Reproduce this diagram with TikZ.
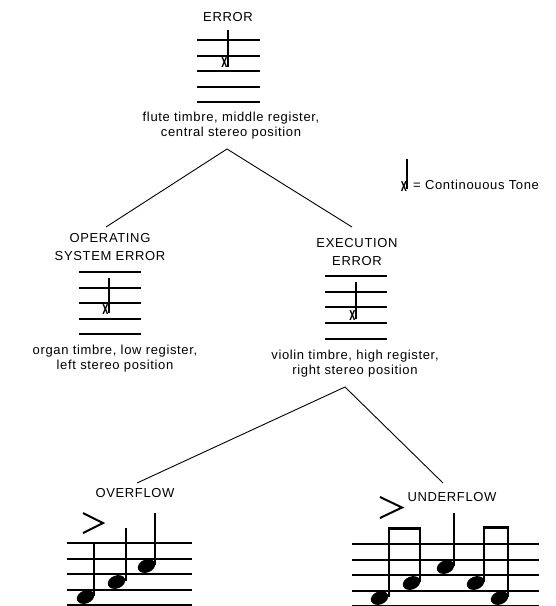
\documentclass[tikz,border=0pt]{standalone}
\usepackage{fontspec}
\setmainfont{Liberation Sans}[LetterSpace=5]
\usetikzlibrary{shapes.geometric}
\begin{document}
\begin{tikzpicture}[x=1pt,y=-1pt,
  title/.style={font=\fontsize{13}{18}\selectfont, align=center, inner sep=0pt},
  desc/.style={font=\fontsize{13}{15}\selectfont, align=center, inner sep=0pt},
  staffline/.style={line width=1.8pt},
  stemline/.style={line width=1.4pt},
  conn/.style={line width=0.9pt},
  tonex/.style={font=\fontsize{11}{11}\selectfont\bfseries, inner sep=0pt},
  head/.style={ellipse, fill=black, inner sep=0pt, minimum width=18pt, minimum height=13pt, rotate=22},
  accent/.style={line width=2pt, line join=miter},
  beamline/.style={line width=2.8pt}
]
\useasboundingbox (0,0) rectangle (556,606);

% ---------- top: ERROR ----------
\node[title] (err) at (228,17) {ERROR};
\foreach \y in {40,56,71,87,102} \draw[staffline] (197,\y) -- (260,\y);
\draw[stemline] (228,30) -- (228,67);
\node[tonex] (errx) at (224.5,62.5) {\scalebox{1}[1.7]{x}};
\node[desc] (flute) at (231,126) {flute timbre, middle register,\\central stereo position};

% ---------- legend ----------
\draw[stemline] (407,159) -- (407,189);
\node[tonex] (legx) at (404,186.5) {\scalebox{1}[1.7]{x}};
\node[desc, anchor=west] (legend) at (413,184.5) {= Continouous Tone};

% ---------- OPERATING SYSTEM ERROR ----------
\node[title] (os) at (110,247) {OPERATING\\SYSTEM ERROR};
\foreach \y in {272,288,303,319,334} \draw[staffline] (79,\y) -- (141,\y);
\draw[stemline] (109,278) -- (109,313);
\node[tonex] (osx) at (105.5,310) {\scalebox{1}[1.7]{x}};
\node[desc] (organ) at (115,359) {organ timbre, low register,\\left stereo position};

% ---------- EXECUTION ERROR ----------
\node[title] (ex) at (357,252.5) {EXECUTION\\ERROR};
\foreach \y in {276,292,307,323,339} \draw[staffline] (325,\y) -- (387,\y);
\draw[stemline] (356,282) -- (356,319);
\node[tonex] (exx) at (352.5,315.5) {\scalebox{1}[1.7]{x}};
\node[desc] (violin) at (355,363.5) {violin timbre, high register,\\right stereo position};

% ---------- connectors ----------
\coordinate (topApex) at (227,149);
\coordinate (osTop) at (106,227);
\coordinate (exTop) at (352,227);
\draw[conn] (osTop) -- (topApex) -- (exTop);
\coordinate (exApex) at (345,387);
\coordinate (ovTop) at (137,483);
\coordinate (unTop) at (443,483);
\draw[conn] (ovTop) -- (exApex) -- (unTop);

% ---------- OVERFLOW ----------
\node[title] (ov) at (135,493) {OVERFLOW};
\foreach \y in {543,559,574,590,605} \draw[staffline] (67,\y) -- (192,\y);
\draw[accent] (83,513) -- (103,523) -- (83,533);
\node[head] (o1) at (85.5,597) {};
\node[head] (o2) at (116.5,582) {};
\node[head] (o3) at (146.5,566) {};
\draw[stemline] (94,596) -- (94,543);
\draw[stemline] (126,581) -- (126,528);
\draw[stemline] (155,565) -- (155,513);

% ---------- UNDERFLOW ----------
\node[title] (un) at (452,497) {UNDERFLOW};
\foreach \y in {544,560,575,591,605.5} \draw[staffline] (352,\y) -- (539,\y);
\draw[accent] (380,497) -- (402,507.5) -- (380,518);
\node[head] (u1) at (379.5,598) {};
\node[head] (u2) at (411.5,583) {};
\node[head] (u3) at (445.5,567) {};
\node[head] (u4) at (475.5,583) {};
\node[head] (u5) at (499.5,598) {};
\draw[stemline] (389,597) -- (389,528);
\draw[stemline] (420,582) -- (420,528);
\draw[stemline] (454,566) -- (454,513);
\draw[stemline] (484,582) -- (484,527);
\draw[stemline] (508,597) -- (508,527);
\draw[beamline] (388.3,528.5) -- (420.7,528.5);
\draw[beamline] (483.3,527.5) -- (508.7,527.5);
\end{tikzpicture}
\end{document}
